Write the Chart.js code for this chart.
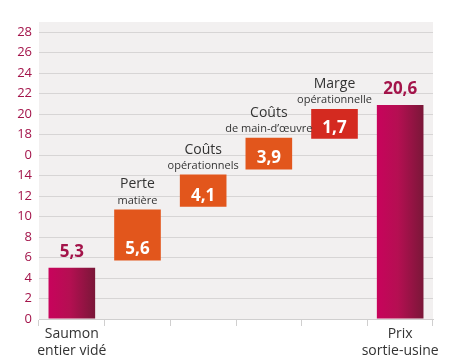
<!DOCTYPE html>
<html>
<head>
<meta charset="utf-8">
<script src="https://cdn.jsdelivr.net/npm/chart.js@4"></script>
<style>
  html, body { margin: 0; padding: 0; background: #fff; }
  #wrap { width: 450px; height: 364px; }
</style>
</head>
<body>
<div id="wrap"><canvas id="waterfall" width="450" height="364"></canvas></div>
<script>
// categories (two-line axis labels)
const categories = [['Saumon', 'entier vidé'], '', '', '', '', ['Prix', 'sortie-usine']];
// floating bar ranges [start, end], as drawn in the picture
const ranges = [[0, 5.0], [5.7, 10.7], [10.95, 14.1], [14.6, 17.7], [17.6, 20.5], [0, 20.9]];
const valueLabels = ['5,3', '5,6', '4,1', '3,9', '1,7', '20,6'];
const titles = ['', 'Perte', 'Coûts', 'Coûts', 'Marge', ''];
const subtitles = ['', 'matière', 'opérationnels', 'de main-d’œuvre', 'opérationnelle', ''];
const barColors = ['#c70a5b', '#e2561c', '#e2561c', '#e2561c', '#d42a20', '#c70a5b'];
const tickValues = [0, 2, 4, 6, 8, 10, 12, 14, 16, 18, 20, 22, 24, 26, 28];
const tickLabels = ['0', '2', '4', '6', '8', '10', '12', '14', '0', '18', '20', '22', '24', '26', '28'];

const FONT = '"Open Sans", "DejaVu Sans", sans-serif';

// plot background + gradient on the total bars
const areaBg = {
    id: 'areaBg',
    beforeDraw(chart) {
        const { ctx, chartArea: a } = chart;
        ctx.save();
        ctx.fillStyle = '#f2f0f0';
        ctx.fillRect(a.left, a.top, a.right - a.left, a.bottom - a.top);
        ctx.restore();
    },
    beforeDatasetsDraw(chart) {
        const meta = chart.getDatasetMeta(0);
        meta.data.forEach((bar, i) => {
            if (i !== 0 && i !== 5) return;
            const g = chart.ctx.createLinearGradient(bar.x - bar.width / 2, 0, bar.x + bar.width / 2, 0);
            g.addColorStop(0, '#c8035c');
            g.addColorStop(0.45, '#b50f52');
            g.addColorStop(1, '#7a1738');
            bar.options.backgroundColor = g;
        });
    }
};

// value and caption texts
const barTexts = {
    id: 'barTexts',
    afterDatasetsDraw(chart) {
        const { ctx } = chart;
        const meta = chart.getDatasetMeta(0);
        ctx.save();
        ctx.textAlign = 'center';
        ctx.textBaseline = 'middle';
        meta.data.forEach((bar, i) => {
            const top = Math.min(bar.y, bar.base);
            const bottom = Math.max(bar.y, bar.base);
            if (i === 0 || i === 5) {
                ctx.fillStyle = '#a3144a';
                ctx.font = 'bold 17px ' + FONT;
                ctx.fillText(valueLabels[i], bar.x, top - 16);
            } else {
                ctx.fillStyle = '#ffffff';
                ctx.font = 'bold 17px ' + FONT;
                ctx.fillText(valueLabels[i], bar.x, bottom - 11);
                ctx.fillStyle = '#333333';
                ctx.font = '11px ' + FONT;
                ctx.fillText(subtitles[i], bar.x, top - 9);
                ctx.font = '14px ' + FONT;
                ctx.fillText(titles[i], bar.x, top - 25);
            }
        });
        ctx.restore();
    }
};

new Chart(document.getElementById('waterfall').getContext('2d'), {
    type: 'bar',
    data: {
        labels: categories,
        datasets: [{
            data: ranges,
            backgroundColor: barColors,
            borderWidth: 0,
            borderSkipped: false,
            barPercentage: 0.71,
            categoryPercentage: 1.0
        }]
    },
    options: {
        responsive: false,
        animation: false,
        layout: { padding: { top: 22, right: 17, left: 0, bottom: 0 } },
        plugins: {
            legend: { display: false },
            tooltip: { enabled: false }
        },
        scales: {
            x: {
                grid: {
                    display: true,
                    drawOnChartArea: false,
                    drawTicks: true,
                    tickLength: 7,
                    color: '#d0cfcf',
                    offset: true
                },
                border: { color: '#d0cfcf' },
                ticks: {
                    color: '#333333',
                    font: { family: FONT, size: 14 },
                    padding: 0,
                    maxRotation: 0,
                    autoSkip: false
                },
                afterFit(scale) { scale.height = 45; }
            },
            y: {
                min: 0,
                max: 29,
                afterBuildTicks(scale) {
                    scale.ticks = tickValues.map(v => ({ value: v }));
                },
                grid: {
                    color: '#d7d5d5',
                    drawTicks: false
                },
                border: { display: false },
                ticks: {
                    color: '#a3144a',
                    font: { family: FONT, size: 13 },
                    padding: 7,
                    callback: (v, i) => tickLabels[i]
                },
                afterFit(scale) { scale.width = 39; }
            }
        }
    },
    plugins: [areaBg, barTexts]
});
</script>
</body>
</html>
